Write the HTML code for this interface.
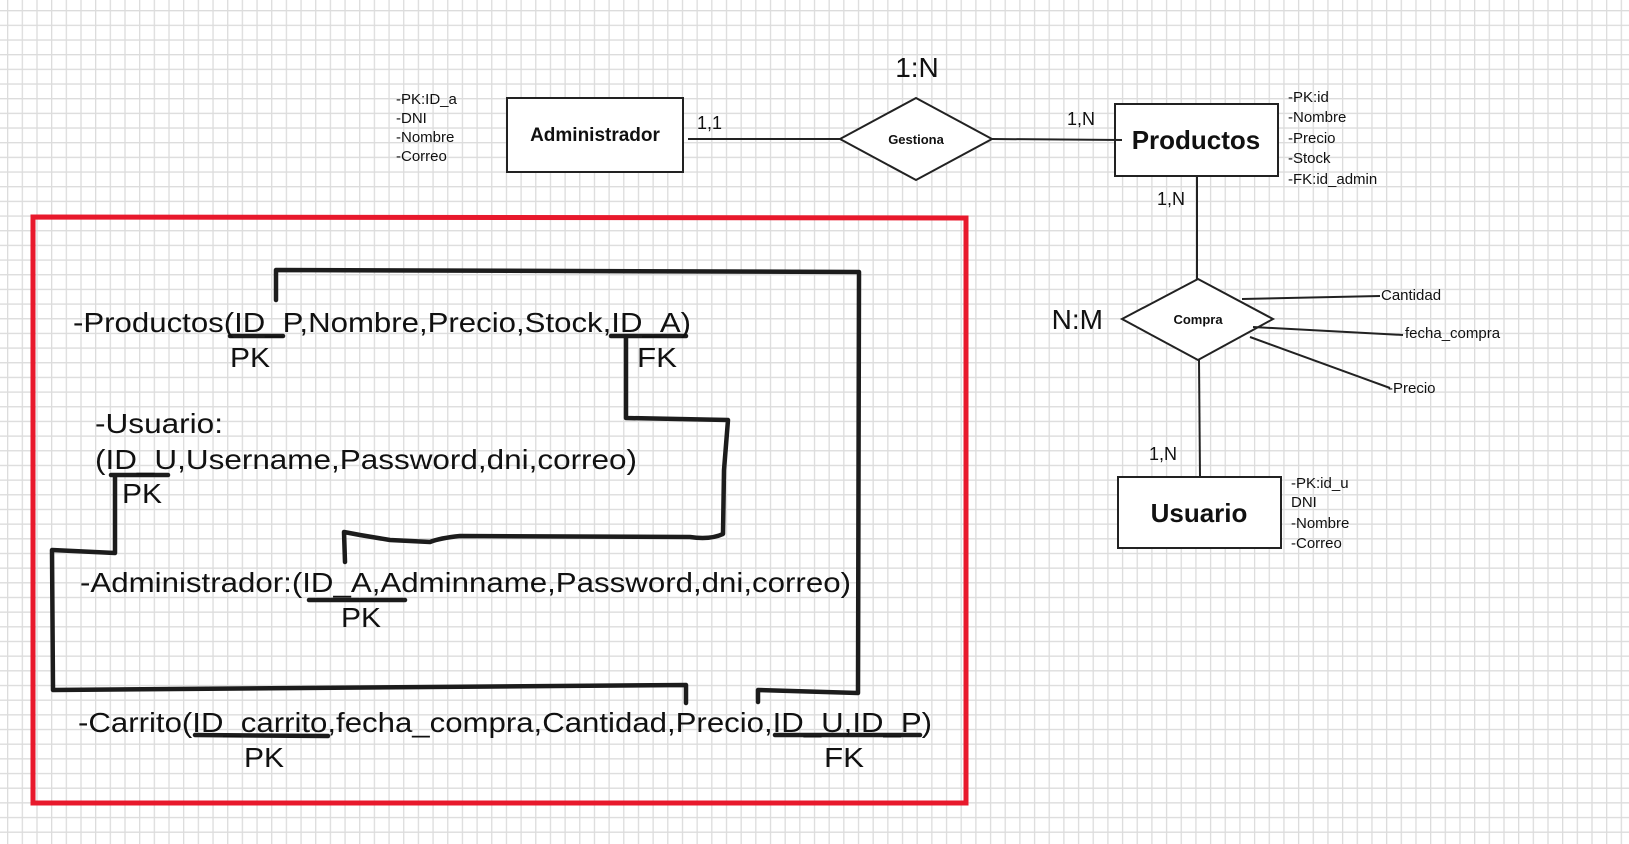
<!DOCTYPE html>
<html><head><meta charset="utf-8"><style>
html,body{margin:0;padding:0;background:#fff}
svg{display:block}
text{font-family:"Liberation Sans",Arial,sans-serif;fill:#111}
</style></head><body>
<svg width="1629" height="844" viewBox="0 0 1629 844" xmlns="http://www.w3.org/2000/svg">
<defs>
<pattern id="g" x="7" y="10" width="14.67" height="14.67" patternUnits="userSpaceOnUse">
<path d="M0 0H14.67M0 0V14.67" stroke="#dcdcdc" stroke-width="2.6" fill="none"/>
</pattern>
</defs>
<rect width="1629" height="844" fill="#fff"/>
<rect width="1629" height="844" fill="url(#g)"/>

<g fill="#fff" stroke="#222" stroke-width="2">
<rect x="507" y="98" width="176" height="74"/>
<rect x="1115" y="104" width="163" height="72"/>
<rect x="1118" y="477" width="163" height="71"/>
<polygon points="840,139 916,98 992,139 916,180"/>
<polygon points="1122,319 1198,279 1273,319 1198,360"/>
</g>
<g stroke="#222" stroke-width="2" fill="none">
<line x1="688" y1="139" x2="840" y2="139"/>
<line x1="992" y1="139" x2="1122" y2="140"/>
<line x1="1197" y1="176" x2="1197" y2="279"/>
<line x1="1199" y1="360" x2="1200" y2="477"/>
<line x1="1242" y1="299" x2="1380" y2="296"/>
<line x1="1253" y1="327" x2="1403" y2="335"/>
<line x1="1250" y1="337" x2="1390" y2="388"/>
</g>
<g font-size="15" fill="#222">
<text x="396" y="104">-PK:ID_a</text>
<text x="396" y="123">-DNI</text>
<text x="396" y="142">-Nombre</text>
<text x="396" y="161">-Correo</text>
<text x="1288" y="102">-PK:id</text>
<text x="1288" y="122">-Nombre</text>
<text x="1288" y="143">-Precio</text>
<text x="1288" y="163">-Stock</text>
<text x="1288" y="184">-FK:id_admin</text>
<text x="1291" y="488">-PK:id_u</text>
<text x="1291" y="507">DNI</text>
<text x="1291" y="528">-Nombre</text>
<text x="1291" y="548">-Correo</text>
<text x="1381" y="300">Cantidad</text>
<text x="1405" y="338">fecha_compra</text>
<text x="1388" y="393">-Precio</text>
</g>
<g font-size="18">
<text x="697" y="129">1,1</text>
<text x="1067" y="125">1,N</text>
<text x="1157" y="205">1,N</text>
<text x="1149" y="460">1,N</text>
</g>
<text x="917" y="77" font-size="28" text-anchor="middle">1:N</text>
<text x="1103" y="329" font-size="28" text-anchor="end">N:M</text>
<g font-weight="bold" text-anchor="middle">
<text x="595" y="141" font-size="19">Administrador</text>
<text x="916" y="144" font-size="13">Gestiona</text>
<text x="1196" y="149" font-size="26">Productos</text>
<text x="1198" y="324" font-size="13">Compra</text>
<text x="1199" y="522" font-size="26">Usuario</text>
</g>

<polygon points="33,217 966,218 966,803 33,803" fill="none" stroke="#e8192c" stroke-width="5"/>

<g stroke="#1c1c1c" stroke-width="4.5" fill="none" stroke-linecap="round" stroke-linejoin="round">
<path d="M276 300 L276 270 L859 272 L858 693 L758 690 L758 702"/>
<path d="M626 337 L626 418 L728 420 L724 470 L723 534 Q710 540 690 537 L460 536 Q440 538 430 542 L390 540 L360 535 L344 532 L345 562"/>
<path d="M115 476 L115 553 L52 550 L53 690 L686 685 L686 703"/>
<path d="M230 336 L283 336"/>
<path d="M611 336 L686 336"/>
<path d="M111 475 L168 475"/>
<path d="M309 600 L405 600"/>
<path d="M195 735 L328 736"/>
<path d="M775 735 L920 735"/>
</g>

<g font-size="28">
<text x="73" y="332" textLength="618" lengthAdjust="spacingAndGlyphs">-Productos(ID_P,Nombre,Precio,Stock,ID_A)</text>
<text x="230" y="367" textLength="40" lengthAdjust="spacingAndGlyphs">PK</text>
<text x="637" y="367" textLength="40" lengthAdjust="spacingAndGlyphs">FK</text>
<text x="95" y="433" textLength="128" lengthAdjust="spacingAndGlyphs">-Usuario:</text>
<text x="95" y="469" textLength="542" lengthAdjust="spacingAndGlyphs">(ID_U,Username,Password,dni,correo)</text>
<text x="122" y="503" textLength="40" lengthAdjust="spacingAndGlyphs">PK</text>
<text x="80" y="592" textLength="771" lengthAdjust="spacingAndGlyphs">-Administrador:(ID_A,Adminname,Password,dni,correo)</text>
<text x="341" y="627" textLength="40" lengthAdjust="spacingAndGlyphs">PK</text>
<text x="78" y="732" textLength="854" lengthAdjust="spacingAndGlyphs">-Carrito(ID_carrito,fecha_compra,Cantidad,Precio,ID_U,ID_P)</text>
<text x="244" y="767" textLength="40" lengthAdjust="spacingAndGlyphs">PK</text>
<text x="824" y="767" textLength="40" lengthAdjust="spacingAndGlyphs">FK</text>
</g>
</svg>
</body></html>
